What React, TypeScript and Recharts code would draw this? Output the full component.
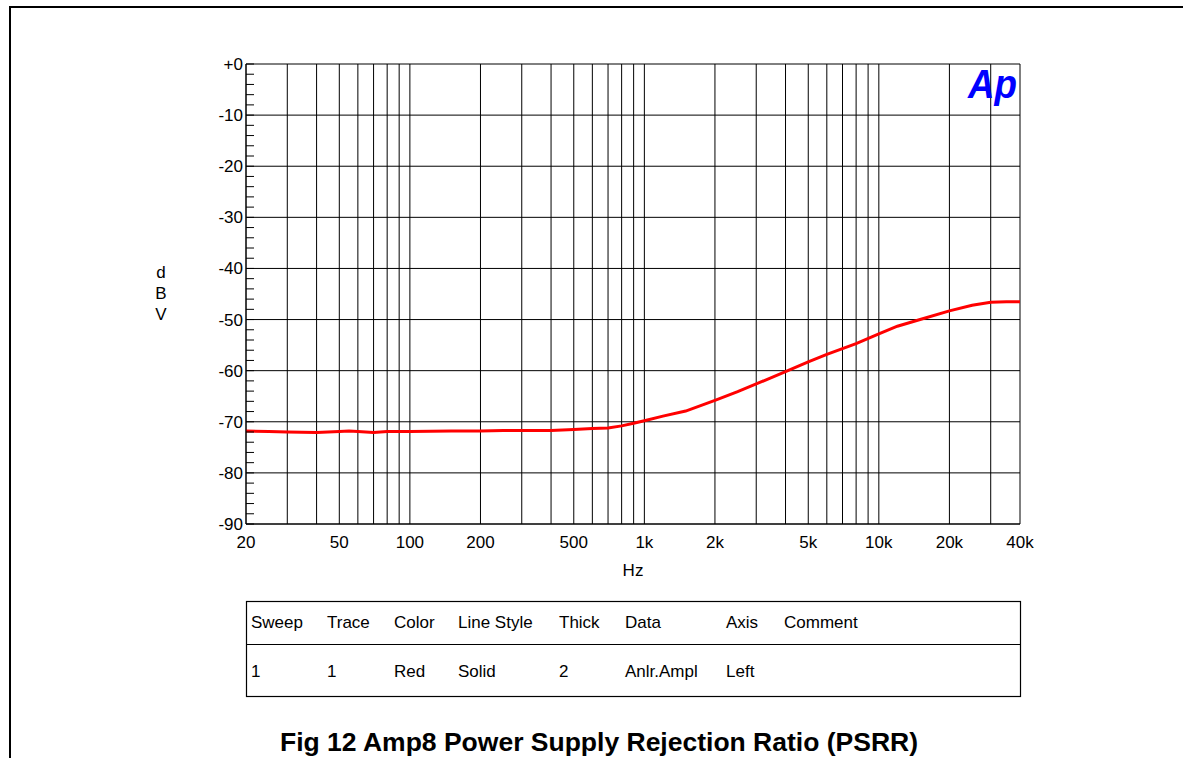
import { LineChart, Line, XAxis, YAxis, CartesianGrid } from 'recharts'

// frequency sweep (Hz) and measured level (dBV)
const freqs = [
  20, 25, 30, 40, 50, 55, 60, 70, 80, 100, 150, 200, 250, 300, 400, 500, 600, 700, 800, 900,
  1000, 1200, 1500, 2000, 2500, 3000, 4000, 5000, 6000, 8000, 10000, 12000, 15000, 20000,
  25000, 30000, 35000, 40000,
]
const levels = [
  -71.8, -71.9, -72.0, -72.1, -71.9, -71.8, -71.9, -72.1, -71.9, -71.9, -71.8, -71.8, -71.7,
  -71.7, -71.7, -71.5, -71.3, -71.2, -70.8, -70.3, -69.8, -68.9, -67.9, -65.8, -64.1, -62.6,
  -60.2, -58.3, -56.8, -54.7, -52.8, -51.3, -50.0, -48.3, -47.2, -46.6, -46.5, -46.5,
]

const xGridTicks = [
  20, 30, 40, 50, 60, 70, 80, 90, 100, 200, 300, 400, 500, 600, 700, 800, 900, 1000, 2000,
  3000, 4000, 5000, 6000, 7000, 8000, 9000, 10000, 20000, 30000, 40000,
]
const xLabels: Record<number, string> = {
  20: '20', 50: '50', 100: '100', 200: '200', 500: '500', 1000: '1k', 2000: '2k',
  5000: '5k', 10000: '10k', 20000: '20k', 40000: '40k',
}
const yMinorTicks = [
  -90, -88, -86, -84, -82, -80, -78, -76, -74, -72, -70, -68, -66, -64, -62, -60, -58, -56,
  -54, -52, -50, -48, -46, -44, -42, -40, -38, -36, -34, -32, -30, -28, -26, -24, -22, -20,
  -18, -16, -14, -12, -10, -8, -6, -4, -2, 0,
]
const yGrid = [0, -10, -20, -30, -40, -50, -60, -70, -80, -90]

const legendHeader = ['Sweep', 'Trace', 'Color', 'Line Style', 'Thick', 'Data', 'Axis', 'Comment']
const legendRow = ['1', '1', 'Red', 'Solid', '2', 'Anlr.Ampl', 'Left', '']
const legendCols = [251, 327, 394, 458, 559, 625, 726, 784]

const title = 'Fig 12 Amp8 Power Supply Rejection Ratio (PSRR)'

const data = freqs.map((f, i) => ({ f, db: levels[i] }))

const font = '"Liberation Sans", Arial, sans-serif'

const YTick = (props: any) => {
  const { x, y, payload } = props
  const v = payload.value
  return (
    <g>
      <line x1={x} x2={x + 8} y1={y} y2={y} stroke="#000" />
      {v % 10 === 0 && (
        <text x={x - 3} y={y} dy={6} textAnchor="end" fontSize={17} fill="#000" fontFamily={font}>
          {v === 0 ? '+0' : v}
        </text>
      )}
    </g>
  )
}

const XTick = (props: any) => {
  const { x, y, payload } = props
  const label = xLabels[payload.value]
  if (!label) return <g />
  return (
    <text x={x} y={y} dy={24} textAnchor="middle" fontSize={17} fill="#000" fontFamily={font}>
      {label}
    </text>
  )
}

export default function App() {
  return (
    <div style={{ position: 'absolute', left: 0, top: 0, width: 1183, height: 758, background: '#fff', overflow: 'hidden' }}>
      <LineChart
        width={1183}
        height={758}
        data={data}
        margin={{ top: 64, left: 245, right: 163, bottom: 233 }}
      >
        <CartesianGrid stroke="#000" strokeWidth={1} horizontalValues={yGrid} />
        <XAxis
          dataKey="f"
          type="number"
          scale="log"
          domain={[20, 40000]}
          ticks={xGridTicks}
          interval={0}
          height={1}
          tickLine={false}
          tickSize={0}
          tickMargin={0}
          tick={<XTick />}
          axisLine={{ stroke: '#000' }}
          allowDataOverflow
        />
        <YAxis
          type="number"
          domain={[-90, 0]}
          ticks={yMinorTicks}
          interval={0}
          width={1}
          tickLine={false}
          tickSize={0}
          tickMargin={0}
          tick={<YTick />}
          axisLine={{ stroke: '#000' }}
          allowDataOverflow
        />
        <Line
          type="linear"
          dataKey="db"
          stroke="#ff0000"
          strokeWidth={3}
          dot={false}
          isAnimationActive={false}
        />
      </LineChart>
      <svg
        width={1183}
        height={758}
        style={{ position: 'absolute', left: 0, top: 0, pointerEvents: 'none' }}
        fontFamily={font}
      >
        <rect x={10} y={7} width={1300} height={900} fill="none" stroke="#000" strokeWidth={2} />
        <text x={968} y={98} fontSize={40} fontWeight="bold" fontStyle="italic" fill="#0000ff"
          textLength={49} lengthAdjust="spacingAndGlyphs">Ap</text>
        <text x={161} y={278} fontSize={17} textAnchor="middle">d</text>
        <text x={161} y={299} fontSize={17} textAnchor="middle">B</text>
        <text x={161} y={320} fontSize={17} textAnchor="middle">V</text>
        <text x={633} y={576} fontSize={17} textAnchor="middle">Hz</text>
        <rect x={246.5} y={601.5} width={774} height={95} fill="none" stroke="#000" strokeWidth={1.2} />
        <line x1={246} x2={1021} y1={644.5} y2={644.5} stroke="#000" strokeWidth={1.2} />
        {legendHeader.map((t, i) => (
          <text key={'h' + i} x={legendCols[i]} y={628} fontSize={17}>{t}</text>
        ))}
        {legendRow.map((t, i) => (
          <text key={'r' + i} x={legendCols[i]} y={677} fontSize={17}>{t}</text>
        ))}
        <text x={280} y={751} fontSize={26} fontWeight="bold" textLength={638} lengthAdjust="spacingAndGlyphs">
          {title}
        </text>
      </svg>
    </div>
  )
}
